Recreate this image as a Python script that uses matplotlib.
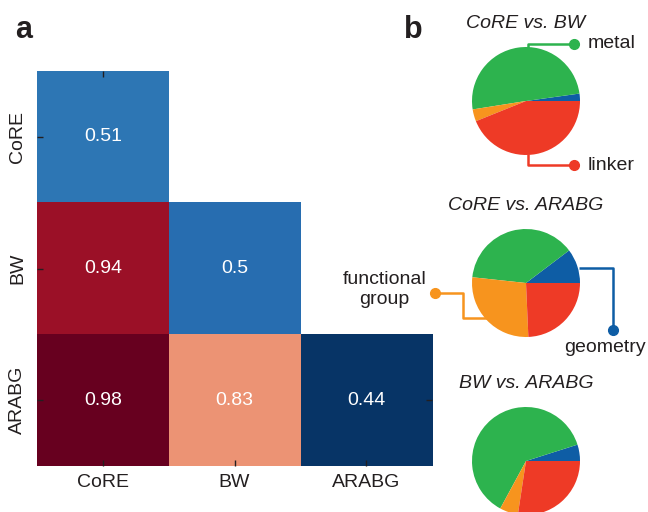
import numpy as np
import matplotlib
matplotlib.use('Agg')
import matplotlib.pyplot as plt

plt.rcParams['font.family'] = ['Liberation Sans', 'DejaVu Sans']

# panel a data
METHODS = ['CoRE', 'BW', 'ARABG']
CORR = np.array([
    [0.51, np.nan, np.nan],
    [0.94, 0.50, np.nan],
    [0.98, 0.83, 0.44],
])

# panel b data (counter-clockwise from 0 deg)
PIE_LABELS = ['geometry', 'metal', 'functional group', 'linker']
PIE_COLORS = ['#0E5DA5', '#2DB34E', '#F7941E', '#EE3A26']
PAIRS = ['CoRE vs. BW', 'CoRE vs. ARABG', 'BW vs. ARABG']
PIE_1 = [0.022, 0.503, 0.036, 0.439]
PIE_2 = [0.103, 0.380, 0.274, 0.243]
PIE_3 = [0.049, 0.622, 0.055, 0.274]

TXT = '#231F20'
W, H = 648, 512


def px_axes(fig, cx, cy, w, h):
    # axes from pixel centre (top-left origin)
    return fig.add_axes([(cx - w / 2) / W, 1 - (cy + h / 2) / H, w / W, h / H])


fig = plt.figure(figsize=(6.48, 5.12), dpi=100)

# ---- heatmap
ax = fig.add_axes([37 / W, 46 / H, 395 / W, 395 / H])
data = np.ma.masked_invalid(CORR)
ax.imshow(data, cmap='RdBu_r', vmin=0.435, vmax=0.98, aspect='auto')
for i in range(3):
    for j in range(3):
        if not np.isnan(CORR[i, j]):
            ax.text(j, i, f'{CORR[i, j]:g}', ha='center', va='center',
                    color='white', fontsize=14)
ax.set_xticks(range(3), METHODS, fontsize=14, color=TXT)
ax.set_yticks(range(3), METHODS, fontsize=14, color=TXT, rotation=90, va='center')
ax.tick_params(axis='x', direction='in', length=4, width=1, color=TXT, pad=6)
ax.tick_params(axis='y', direction='in', length=4, width=1, color=TXT, pad=8)
for s in ax.spines.values():
    s.set_visible(False)
sec_x = ax.secondary_xaxis('top')
sec_x.set_xticks([0], [''])
sec_x.tick_params(direction='in', length=4, width=1, color=TXT)
sec_y = ax.secondary_yaxis('right')
sec_y.set_yticks([2], [''])
sec_y.tick_params(direction='in', length=4, width=1, color=TXT)
for sa in (sec_x, sec_y):
    for s in sa.spines.values():
        s.set_visible(False)

fig.text(15 / W, 1 - 30 / H, 'a', fontsize=22, fontweight='bold', color=TXT, va='center')
fig.text(404 / W, 1 - 30 / H, 'b', fontsize=22, fontweight='bold', color=TXT, va='center')

# ---- pies
R = 54
centres = [(526, 101), (526, 283), (526, 461)]
pie_axes = []
for (cx, cy), title, vals in zip(centres, PAIRS, [PIE_1, PIE_2, PIE_3]):
    pa = px_axes(fig, cx, cy, 2 * R, 2 * R)
    pa.pie(vals, colors=PIE_COLORS, startangle=0, counterclock=True, radius=1,
           wedgeprops=dict(linewidth=0))
    pa.set_xlim(-1, 1)
    pa.set_ylim(-1, 1)
    pa.set_aspect('equal')
    pa.axis('off')
    pa.text(0, 1.43, title, ha='center', va='center', fontsize=14,
            style='italic', color=TXT)
    pie_axes.append(pa)


def connector(a, xs, ys, color, dot_at_end=True):
    a.plot(xs, ys, color=color, lw=1.8, clip_on=False, solid_capstyle='butt')
    k = -1 if dot_at_end else 0
    a.plot([xs[k]], [ys[k]], 'o', color=color, ms=7, clip_on=False)


p1, p2, p3 = pie_axes
connector(p1, [0.04, 0.04, 0.89], [0.98, 1.06, 1.06], PIE_COLORS[1])
p1.text(1.15, 1.06, 'metal', ha='left', va='center', fontsize=14, color=TXT)
connector(p1, [0.04, 0.04, 0.89], [-0.98, -1.19, -1.19], PIE_COLORS[3])
p1.text(1.15, -1.19, 'linker', ha='left', va='center', fontsize=14, color=TXT)

connector(p2, [0.98, 1.61, 1.61], [0.28, 0.28, -0.87], PIE_COLORS[0])
p2.text(1.46, -1.19, 'geometry', ha='center', va='center', fontsize=14, color=TXT)
connector(p2, [-0.43, -1.17, -1.17, -1.69], [-0.65, -0.65, -0.19, -0.19], PIE_COLORS[2])
p2.text(-2.62, -0.12, 'functional\ngroup', ha='center', va='center', fontsize=14,
        color=TXT, linespacing=1.3)

fig.savefig('out.png', dpi=100)
